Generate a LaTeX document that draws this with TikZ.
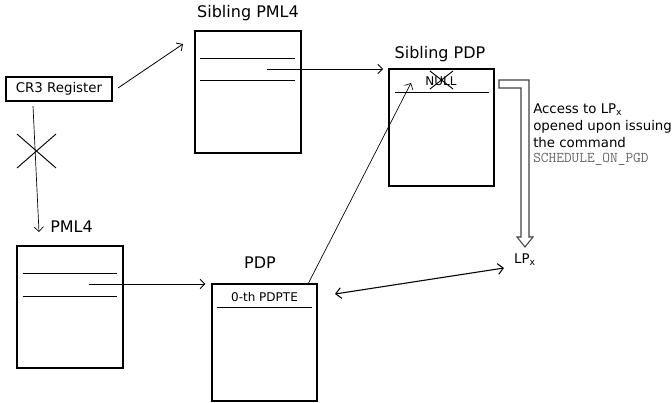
\documentclass[tikz,border=0pt]{standalone}
\usepackage{fontspec}
\setmainfont{DejaVu Sans}
\usetikzlibrary{arrows.meta}
\begin{document}
\begin{tikzpicture}[x=0.75pt,y=-0.75pt,
  tbl/.style={draw,line width=1.1pt,inner sep=0pt,outer sep=0pt,minimum width=79.5pt},
  ttl/.style={font=\fontsize{12}{14}\selectfont,inner sep=0pt},
  small/.style={font=\fontsize{9}{11}\selectfont,inner sep=0pt},
  row/.style={line width=0.6pt},
  conn/.style={line width=0.6pt,-{Straight Barb[length=3.5pt,width=7pt]}},
  crs/.style={line width=0.7pt}]
\useasboundingbox (0,0) rectangle (672,403);

% boxes
\node[tbl,minimum height=91.5pt] (spml4) at (248,92) {};
\node[tbl,minimum height=87.75pt,minimum width=78.75pt] (spdp) at (441.5,127.5) {};
\node[tbl,minimum height=91.5pt] (pml4) at (70,307) {};
\node[tbl,minimum height=87.75pt,minimum width=78.75pt] (pdp) at (264.5,342.5) {};
\node[draw,line width=0.8pt,inner sep=0pt,outer sep=0pt,minimum width=79.5pt,minimum height=18pt,
      font=\fontsize{10}{12}\selectfont] (cr3) at (59,89) {CR3 Register};

% titles
\node[ttl] (tspml4) at (248,13) {Sibling PML4};
\node[ttl] (tspdp) at (440,54) {Sibling PDP};
\node[ttl,anchor=west] (tpml4) at (50,227) {PML4};
\node[ttl] (tpdp) at (260,263) {PDP};

% rows
\draw[row] (200,58) -- (295,58);
\draw[row] (200,80) -- (295,80);
\draw[row] (23,273) -- (117,273);
\draw[row] (23,296) -- (117,296);
\draw[row] (395,92) -- (489,92);
\draw[row] (217,307) -- (312,307);
\node[small] (null) at (441,81) {NULL};
\node[small] (pdpte) at (264.5,297) {0-th PDPTE};
\draw[crs] (430,71) -- (453,89);
\draw[crs] (453,71) -- (430,89);

% connectors
\coordinate (c1) at (118,88);
\coordinate (c2) at (183,44);
\draw[conn] (c1) -- (c2);

\coordinate (c3) at (33,106);
\coordinate (c4) at (39,232);
\draw[conn,line width=0.5pt] (c3) -- (c4);
\draw[crs] (17,134) -- (56,168);
\draw[crs] (56,134) -- (17,168);

\coordinate (p1) at (267,69);
\draw[conn] (p1) -- (spdp.north west) [shorten >=4.5pt];

\coordinate (p2) at (89,284);
\draw[conn] (p2) -- (pdp.north west) [shorten >=5pt];

\coordinate (p3) at (308,284);
\coordinate (p4) at (411,83);
\draw[conn,line width=0.5pt] (p3) -- (p4);

\coordinate (d1) at (335,294);
\coordinate (d2) at (504,268);
\draw[line width=0.8pt,{Straight Barb[length=4pt,width=8pt]}-{Straight Barb[length=4pt,width=8pt]}] (d1) -- (d2);

% LPx
\node[font=\fontsize{10}{12}\selectfont,inner sep=0pt] (lpx) at (525,260) {LP\textsubscript{x}};

% hollow L arrow
\draw[line width=0.8pt,draw=black!75,line join=miter]
  (499,80) -- (529,80) -- (529,237) -- (533,237) -- (525,247) -- (517,237)
  -- (521,237) -- (521,88) -- (499,88) -- cycle;

% note
\node[anchor=north west,align=left,inner sep=0pt,font=\fontsize{10}{12.4}\selectfont] (note) at (533,104)
  {Access to LP\textsubscript{x}\\opened upon issuing\\the command\\[-1pt]{\color{black!60}\ttfamily\fontsize{11.2}{12}\selectfont SCHEDULE\_ON\_PGD}};
\end{tikzpicture}
\end{document}
